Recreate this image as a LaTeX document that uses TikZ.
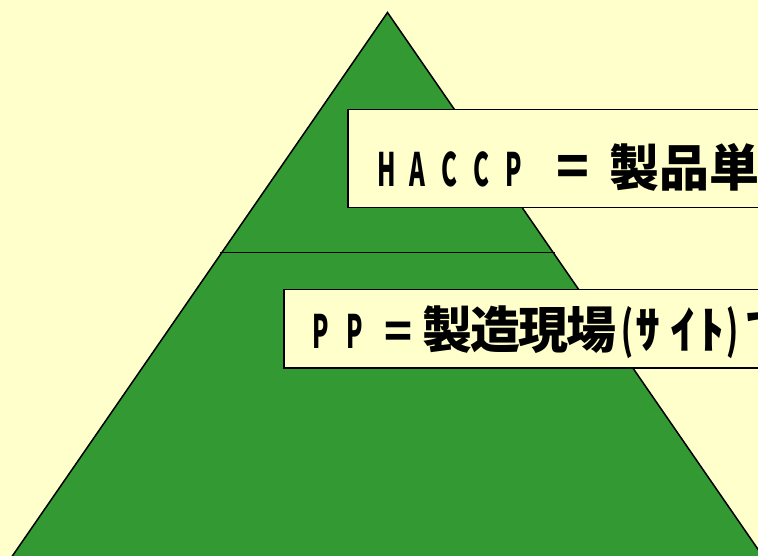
\documentclass[tikz,border=0pt]{standalone}
\usepackage{fontspec}
\usepackage{graphicx}
\newfontfamily\jp{Noto Sans CJK JP}
\definecolor{bgyellow}{HTML}{FFFFCC}
\definecolor{pyrgreen}{HTML}{339933}
\newcommand\lt[2]{\makebox[#1pt][l]{\scalebox{0.52}[1]{#2}}}
\newcommand\cj[2]{\makebox[#1pt][l]{\fontsize{50}{50}\selectfont #2}}
\tikzset{
  frame/.style={draw=black, line width=1.5pt},
  label box/.style={frame, fill=bgyellow},
  txt/.style={inner sep=0pt, anchor=base west, font=\jp\bfseries\fontsize{46}{46}\selectfont}
}
\begin{document}
\begin{tikzpicture}[x=1pt,y=-1pt]
  \useasboundingbox (0,0) rectangle (758,556);
  \clip (0,0) rectangle (758,556);
  \fill[bgyellow] (0,0) rectangle (758,556);
  % pyramid
  \coordinate (apex) at (387.5,12.5);
  \coordinate (bl) at (-18,600);
  \coordinate (br) at (793,600);
  \filldraw[frame, fill=pyrgreen] (apex) -- (bl) -- (br) -- cycle;
  \coordinate (ml) at (220,252.5);
  \coordinate (mr) at (555,252.5);
  \draw[frame] (ml) -- (mr);
  % label boxes
  \node[label box, inner sep=0pt, anchor=north west,
        minimum width=450pt, minimum height=98pt] (b1) at (347,109) {};
  \node[label box, inner sep=0pt, anchor=north west,
        minimum width=520pt, minimum height=78.5pt] (b2) at (283,288.7) {};
  % texts
  \node[txt] (t1) at (377,187) {\lt{32}{H}\lt{32}{A}\lt{32}{C}\lt{32}{C}\lt{51}{P}\makebox[53pt][l]{\fontsize{54}{54}\selectfont =}\cj{50}{製}\cj{50}{品}\cj{50}{単}};
  \node[txt] (t2) at (312,348) {\lt{34}{P}\lt{38}{P}\makebox[38pt][l]{=}\cj{48}{製}\cj{48}{造}\cj{48}{現}\cj{55}{場}\cj{14}{\scalebox{0.6}[1]{(}}\cj{35}{ｻ}\cj{29}{ｲ}\cj{27}{ﾄ}\cj{18}{\scalebox{0.6}[1]{)}}\cj{48}{で}};
\end{tikzpicture}
\end{document}
